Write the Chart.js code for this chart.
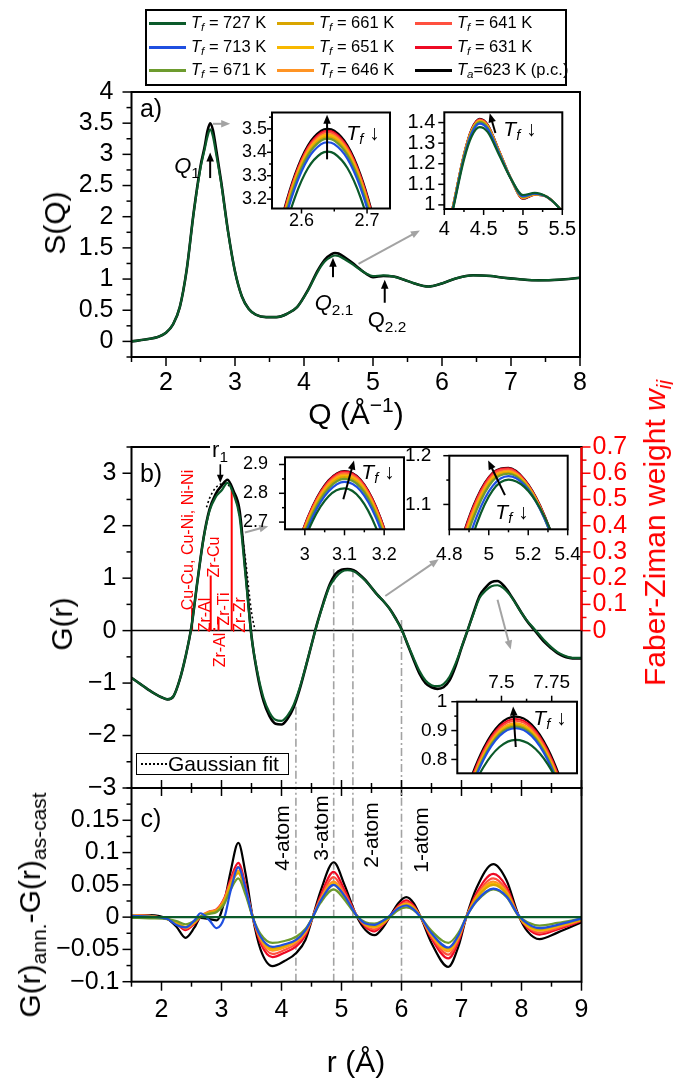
<!DOCTYPE html>
<html>
<head>
<meta charset="utf-8">
<script src="https://cdn.jsdelivr.net/npm/chart.js@4.4.0/dist/chart.umd.min.js"></script>
<style>
  body { margin: 0; background: #fff; font-family: 'Liberation Sans', Arial, sans-serif; }
  #wrap { position: relative; width: 673px; height: 1084px; overflow: hidden; }
  canvas { position: absolute; left: 0; top: 0; }
  .t { position: absolute; white-space: nowrap; transform: translate(-50%, -50%); line-height: 1; }
  .rot { transform: translate(-50%, -50%) rotate(-90deg); }
  sub { font-size: 0.7em; vertical-align: -0.3em; line-height: 0; }
  sup { font-size: 0.7em; vertical-align: 0.55em; line-height: 0; }
  #legend { position: absolute; left: 145px; top: 9px; width: 422px; height: 77px; border: 2px solid #000; box-sizing: border-box; background: #fff; }
  .li { position: absolute; font-size: 16.5px; white-space: nowrap; line-height: 1; }
  .ll { position: absolute; height: 2.5px; }
  #gfit { position: absolute; left: 136px; top: 753px; width: 153px; height: 22px; border: 1.5px solid #000; box-sizing: border-box; background: #fff; }
</style>
</head>
<body>
<div id="wrap"></div>
<script>
const FONT = "'Liberation Sans', Arial, sans-serif";
const W = 673, H = 1084;

// series order: 727, 713, 671, 661, 651, 646, 641, 631, 623 (p.c.)
const tempLabels = ['<i>T</i><sub><i>f</i></sub> = 727 K', '<i>T</i><sub><i>f</i></sub> = 713 K', '<i>T</i><sub><i>f</i></sub> = 671 K',
  '<i>T</i><sub><i>f</i></sub> = 661 K', '<i>T</i><sub><i>f</i></sub> = 651 K', '<i>T</i><sub><i>f</i></sub> = 646 K',
  '<i>T</i><sub><i>f</i></sub> = 641 K', '<i>T</i><sub><i>f</i></sub> = 631 K', '<i>T</i><sub><i>a</i></sub>=623 K (p.c.)'];
const colors = ['#0b5a2a', '#1f4fe0', '#6d9b2e', '#d9a500', '#f8b800', '#ff9424', '#ff503f', '#ee0a24', '#000000'];

// a) S(Q)
const qGrid = [1.5, 1.7, 1.9, 2.0, 2.1, 2.2, 2.3, 2.4, 2.5, 2.56, 2.6, 2.64, 2.68, 2.72, 2.8, 2.9, 3.0, 3.1, 3.2, 3.3,
  3.45, 3.6, 3.75, 3.9, 4.05, 4.2, 4.3, 4.4, 4.45, 4.5, 4.6, 4.7, 4.8, 4.9, 5.0, 5.15, 5.3, 5.45, 5.6, 5.8,
  6.0, 6.2, 6.45, 6.7, 6.9, 7.1, 7.4, 7.7, 8.0];
const sq727 = [0.0, 0.03, 0.08, 0.14, 0.27, 0.55, 1.15, 2.05, 2.78, 3.08, 3.28, 3.40, 3.29, 3.05, 2.53, 1.75, 1.12, 0.72, 0.52, 0.43,
  0.39, 0.39, 0.44, 0.55, 0.80, 1.12, 1.28, 1.36, 1.378, 1.37, 1.31, 1.24, 1.16, 1.09, 1.048, 1.058, 1.04, 0.99, 0.93, 0.88,
  0.93, 1.01, 1.06, 1.05, 1.02, 1.0, 0.98, 0.99, 1.02];
const sq623 = [0.0, 0.03, 0.08, 0.14, 0.27, 0.55, 1.15, 2.06, 2.81, 3.12, 3.37, 3.50, 3.39, 3.13, 2.56, 1.76, 1.12, 0.72, 0.52, 0.43,
  0.39, 0.39, 0.44, 0.55, 0.81, 1.14, 1.31, 1.40, 1.418, 1.41, 1.34, 1.26, 1.17, 1.085, 1.03, 1.05, 1.04, 0.99, 0.93, 0.88,
  0.93, 1.01, 1.06, 1.05, 1.02, 1.0, 0.98, 0.99, 1.02];

// inset a1 (first peak)
const a1Q = [2.55, 2.57, 2.59, 2.61, 2.63, 2.64, 2.65, 2.67, 2.69, 2.71, 2.73];
const a1Vals = [
  [2.771, 3.021, 3.208, 3.333, 3.395, 3.403, 3.395, 3.333, 3.208, 3.021, 2.771],
  [2.811, 3.061, 3.248, 3.373, 3.435, 3.443, 3.435, 3.373, 3.248, 3.061, 2.811],
  [2.826, 3.076, 3.263, 3.388, 3.450, 3.458, 3.450, 3.388, 3.263, 3.076, 2.826],
  [2.833, 3.083, 3.270, 3.395, 3.457, 3.465, 3.457, 3.395, 3.270, 3.083, 2.833],
  [2.840, 3.090, 3.277, 3.402, 3.464, 3.472, 3.464, 3.402, 3.277, 3.090, 2.840],
  [2.846, 3.096, 3.283, 3.408, 3.470, 3.478, 3.470, 3.408, 3.283, 3.096, 2.846],
  [2.854, 3.104, 3.291, 3.416, 3.478, 3.486, 3.478, 3.416, 3.291, 3.104, 2.854],
  [2.860, 3.110, 3.297, 3.422, 3.484, 3.492, 3.484, 3.422, 3.297, 3.110, 2.860],
  [2.868, 3.118, 3.305, 3.430, 3.492, 3.500, 3.492, 3.430, 3.305, 3.118, 2.868]
];
// inset a2 (second peak)
const a2Q = [3.95, 4.1, 4.25, 4.35, 4.45, 4.55, 4.7, 4.85, 5.0, 5.15, 5.3, 5.45, 5.55];
const a2Vals = [
  [0.72, 0.96, 1.22, 1.335, 1.378, 1.355, 1.24, 1.125, 1.048, 1.058, 1.04, 0.99, 0.94],
  [0.725, 0.965, 1.23, 1.35, 1.395, 1.37, 1.248, 1.125, 1.042, 1.055, 1.04, 0.99, 0.94],
  [0.727, 0.968, 1.235, 1.355, 1.402, 1.376, 1.251, 1.125, 1.039, 1.054, 1.04, 0.99, 0.94],
  [0.728, 0.97, 1.237, 1.358, 1.405, 1.379, 1.253, 1.125, 1.037, 1.053, 1.04, 0.99, 0.94],
  [0.728, 0.971, 1.239, 1.36, 1.408, 1.381, 1.254, 1.125, 1.036, 1.052, 1.04, 0.99, 0.94],
  [0.729, 0.972, 1.24, 1.362, 1.41, 1.383, 1.255, 1.125, 1.035, 1.052, 1.04, 0.99, 0.94],
  [0.729, 0.973, 1.242, 1.365, 1.413, 1.386, 1.257, 1.125, 1.033, 1.051, 1.04, 0.99, 0.94],
  [0.73, 0.974, 1.244, 1.368, 1.416, 1.388, 1.258, 1.125, 1.031, 1.05, 1.04, 0.99, 0.94],
  [0.73, 0.975, 1.245, 1.37, 1.418, 1.39, 1.26, 1.125, 1.03, 1.05, 1.04, 0.99, 0.94]
];

// b) G(r)
const rGrid = [1.5, 1.6, 1.7, 1.8, 1.9, 2.0, 2.1, 2.2, 2.3, 2.4, 2.5, 2.6, 2.7, 2.8, 2.9, 3.0, 3.1, 3.2, 3.3, 3.4,
  3.5, 3.6, 3.7, 3.8, 3.9, 4.0, 4.1, 4.2, 4.3, 4.4, 4.5, 4.6, 4.7, 4.8, 4.9, 5.0, 5.1, 5.2, 5.3, 5.4,
  5.5, 5.6, 5.7, 5.8, 5.9, 6.0, 6.1, 6.2, 6.3, 6.4, 6.5, 6.6, 6.7, 6.8, 6.9, 7.0, 7.1, 7.2, 7.3, 7.4,
  7.5, 7.6, 7.7, 7.8, 7.9, 8.0, 8.1, 8.2, 8.3, 8.4, 8.5, 8.6, 8.7, 8.8, 8.9, 9.0];
const g727 = [-0.90, -0.98, -1.06, -1.14, -1.21, -1.27, -1.31, -1.25, -0.95, -0.50, 0.08, 0.95, 1.75, 2.28, 2.54, 2.67, 2.815, 2.60, 2.18, 1.05,
  -0.12, -0.80, -1.28, -1.56, -1.70, -1.72, -1.62, -1.42, -1.10, -0.70, -0.27, 0.15, 0.52, 0.84, 1.01, 1.12, 1.151, 1.13, 1.055, 0.95,
  0.82, 0.68, 0.56, 0.42, 0.23, 0.02, -0.25, -0.52, -0.77, -0.95, -1.04, -1.06, -1.02, -0.88, -0.63, -0.32, 0.0, 0.32, 0.62, 0.76,
  0.845, 0.865, 0.81, 0.69, 0.52, 0.34, 0.18, 0.05, -0.08, -0.21, -0.32, -0.41, -0.47, -0.51, -0.52, -0.52];
const g623 = [-0.90, -0.98, -1.06, -1.14, -1.21, -1.27, -1.31, -1.25, -0.95, -0.50, 0.08, 0.95, 1.76, 2.31, 2.60, 2.76, 2.875, 2.66, 2.30, 1.15,
  -0.10, -0.84, -1.34, -1.63, -1.776, -1.79, -1.68, -1.47, -1.13, -0.71, -0.27, 0.16, 0.54, 0.87, 1.08, 1.16, 1.175, 1.15, 1.07, 0.96,
  0.82, 0.68, 0.56, 0.42, 0.24, 0.03, -0.26, -0.55, -0.82, -1.00, -1.08, -1.11, -1.08, -0.95, -0.68, -0.33, 0.0, 0.34, 0.66, 0.82,
  0.925, 0.945, 0.86, 0.71, 0.53, 0.34, 0.17, 0.03, -0.11, -0.24, -0.34, -0.43, -0.49, -0.52, -0.53, -0.53];
const gaussR = [2.75, 2.8, 2.9, 3.0, 3.05, 3.1, 3.2, 3.3, 3.4, 3.5, 3.56];
const gaussG = [2.35, 2.52, 2.72, 2.8, 2.81, 2.79, 2.62, 2.2, 1.35, 0.35, 0.0];
// Faber-Ziman weights of the pairs
const fzR = [2.51, 2.80, 2.82, 2.88, 2.95, 3.17];
const fzW = [0.087, 0.012, 0.21, 0.01, 0.046, 0.54];
// dash-dot markers (r and the G(r) where they start)
const dashR = [4.24, 4.87, 5.19, 6.0];
const dashTop = [-1.45, 1.17, 1.17, 0.2];

// inset b1
const b1R = [2.94, 2.98, 3.02, 3.06, 3.10, 3.14, 3.18, 3.22, 3.26];
const b1Vals = [
  [2.362, 2.562, 2.705, 2.790, 2.817, 2.782, 2.679, 2.51, 2.273],
  [2.375, 2.575, 2.719, 2.807, 2.84, 2.81, 2.713, 2.55, 2.32],
  [2.388, 2.586, 2.729, 2.817, 2.85, 2.821, 2.724, 2.561, 2.331],
  [2.395, 2.592, 2.735, 2.823, 2.856, 2.827, 2.73, 2.567, 2.337],
  [2.4, 2.597, 2.74, 2.828, 2.861, 2.832, 2.735, 2.572, 2.342],
  [2.405, 2.602, 2.745, 2.833, 2.866, 2.837, 2.74, 2.577, 2.347],
  [2.41, 2.608, 2.75, 2.838, 2.871, 2.842, 2.745, 2.582, 2.352],
  [2.41, 2.61, 2.754, 2.843, 2.875, 2.846, 2.75, 2.588, 2.358],
  [2.412, 2.612, 2.756, 2.845, 2.877, 2.848, 2.752, 2.59, 2.36]
];
// inset b2
const b2R = [4.78, 4.86, 4.94, 5.02, 5.10, 5.18, 5.26, 5.34, 5.42];
const b2Vals = [
  [0.793, 0.949, 1.061, 1.129, 1.151, 1.136, 1.092, 1.019, 0.915],
  [0.83, 0.975, 1.076, 1.138, 1.158, 1.14, 1.09, 1.012, 0.905],
  [0.858, 0.996, 1.09, 1.148, 1.163, 1.143, 1.091, 1.01, 0.9],
  [0.866, 1.002, 1.095, 1.151, 1.165, 1.144, 1.092, 1.01, 0.895],
  [0.872, 1.007, 1.099, 1.154, 1.167, 1.146, 1.093, 1.01, 0.895],
  [0.878, 1.012, 1.103, 1.157, 1.169, 1.147, 1.094, 1.011, 0.896],
  [0.885, 1.018, 1.108, 1.161, 1.172, 1.149, 1.095, 1.012, 0.897],
  [0.89, 1.022, 1.112, 1.164, 1.174, 1.151, 1.097, 1.013, 0.898],
  [0.892, 1.024, 1.114, 1.165, 1.175, 1.152, 1.098, 1.014, 0.899]
];
// inset b3
const b3R = [7.25, 7.33, 7.41, 7.49, 7.57, 7.65, 7.73, 7.81, 7.89];
const b3Vals = [
  [0.498, 0.658, 0.773, 0.843, 0.868, 0.848, 0.784, 0.675, 0.521],
  [0.468, 0.660, 0.798, 0.881, 0.908, 0.881, 0.798, 0.660, 0.468],
  [0.474, 0.666, 0.804, 0.887, 0.914, 0.887, 0.804, 0.666, 0.474],
  [0.478, 0.670, 0.808, 0.891, 0.918, 0.891, 0.808, 0.670, 0.478],
  [0.482, 0.674, 0.812, 0.895, 0.922, 0.895, 0.812, 0.674, 0.482],
  [0.486, 0.678, 0.816, 0.899, 0.926, 0.899, 0.816, 0.678, 0.486],
  [0.494, 0.686, 0.824, 0.907, 0.934, 0.907, 0.824, 0.686, 0.494],
  [0.500, 0.692, 0.830, 0.913, 0.940, 0.913, 0.830, 0.692, 0.500],
  [0.508, 0.700, 0.838, 0.921, 0.948, 0.921, 0.838, 0.700, 0.508]
];

// c) G(r)ann. - G(r)as-cast
const cR = [1.5, 1.8, 2.1, 2.25, 2.4, 2.55, 2.65, 2.8, 2.92, 3.05, 3.15, 3.28, 3.4, 3.52, 3.65, 3.85, 4.05, 4.25, 4.4, 4.52,
  4.65, 4.87, 5.05, 5.25, 5.4, 5.55, 5.7, 5.8, 5.95, 6.08, 6.2, 6.32, 6.5, 6.78, 6.95, 7.08, 7.25, 7.53, 7.75, 7.95,
  8.1, 8.3, 8.6, 9.0];
const d727R = [1.5, 9.0];
const d727 = [0, 0];
const dVals = [
  null,
  [0.002, 0.001, -0.003, -0.012, -0.016, -0.005, 0.006, -0.005, -0.017, 0.0, 0.04, 0.077, 0.045, 0.0, -0.03, -0.046, -0.042, -0.035, -0.02, 0.0,
   0.025, 0.05, 0.033, 0.003, -0.01, -0.012, -0.005, 0.002, 0.014, 0.018, 0.012, 0.0, -0.025, -0.047, -0.028, 0.0, 0.025, 0.044, 0.032, 0.003,
   -0.01, -0.017, -0.012, -0.002],
  [-0.001, -0.002, -0.003, -0.006, -0.011, -0.006, 0.001, 0.005, 0.008, 0.021, 0.042, 0.06, 0.035, 0.0, -0.026, -0.04, -0.037, -0.03, -0.018, 0.0,
   0.022, 0.043, 0.027, 0.002, -0.008, -0.01, -0.005, 0.0, 0.011, 0.015, 0.011, 0.0, -0.021, -0.04, -0.024, 0.0, 0.024, 0.043, 0.031, 0.002,
   -0.008, -0.013, -0.009, -0.002],
  [0.002, 0.001, -0.003, -0.008, -0.015, -0.007, 0.001, 0.007, 0.01, 0.025, 0.048, 0.068, 0.04, 0.0, -0.031, -0.048, -0.044, -0.035, -0.021, 0.0,
   0.025, 0.05, 0.031, 0.003, -0.011, -0.014, -0.008, 0.0, 0.014, 0.019, 0.014, 0.0, -0.026, -0.048, -0.029, 0.0, 0.029, 0.05, 0.036, 0.002,
   -0.012, -0.019, -0.013, -0.004],
  [0.002, 0.001, -0.003, -0.009, -0.016, -0.008, 0.001, 0.007, 0.01, 0.026, 0.05, 0.07, 0.041, 0.0, -0.032, -0.05, -0.045, -0.036, -0.022, 0.0,
   0.026, 0.052, 0.032, 0.003, -0.011, -0.015, -0.008, 0.0, 0.014, 0.02, 0.014, 0.0, -0.027, -0.05, -0.03, 0.0, 0.03, 0.052, 0.037, 0.002,
   -0.013, -0.02, -0.014, -0.004],
  [0.003, 0.002, -0.003, -0.009, -0.017, -0.008, 0.001, 0.008, 0.011, 0.027, 0.051, 0.072, 0.043, 0.0, -0.033, -0.052, -0.047, -0.038, -0.023, 0.0,
   0.027, 0.055, 0.034, 0.003, -0.012, -0.016, -0.009, 0.0, 0.015, 0.021, 0.015, 0.0, -0.028, -0.053, -0.031, 0.0, 0.031, 0.055, 0.039, 0.002,
   -0.014, -0.021, -0.015, -0.004],
  [0.003, 0.002, -0.003, -0.009, -0.018, -0.009, 0.001, 0.009, 0.012, 0.029, 0.055, 0.078, 0.046, 0.0, -0.036, -0.057, -0.051, -0.041, -0.025, 0.0,
   0.029, 0.062, 0.037, 0.003, -0.013, -0.019, -0.01, 0.0, 0.016, 0.023, 0.016, 0.0, -0.03, -0.058, -0.034, 0.0, 0.033, 0.06, 0.042, 0.002,
   -0.015, -0.024, -0.017, -0.005],
  [0.003, 0.002, -0.003, -0.01, -0.02, -0.01, 0.0, 0.008, 0.012, 0.03, 0.058, 0.084, 0.05, 0.0, -0.04, -0.062, -0.055, -0.045, -0.028, 0.0,
   0.033, 0.07, 0.042, 0.003, -0.015, -0.022, -0.011, 0.0, 0.018, 0.026, 0.018, 0.0, -0.033, -0.064, -0.038, 0.0, 0.037, 0.067, 0.047, 0.002,
   -0.017, -0.027, -0.019, -0.006],
  [0.003, 0.003, -0.003, -0.015, -0.032, -0.016, -0.001, -0.003, -0.005, 0.025, 0.07, 0.115, 0.068, 0.0, -0.05, -0.076, -0.068, -0.055, -0.035, 0.0,
   0.04, 0.085, 0.05, 0.002, -0.02, -0.028, -0.015, 0.0, 0.022, 0.031, 0.022, 0.0, -0.04, -0.077, -0.045, 0.0, 0.045, 0.082, 0.057, 0.003,
   -0.022, -0.034, -0.024, -0.008]
];

// tick values
const aXTicks = [2, 3, 4, 5, 6, 7, 8];
const aYTicks = [0, 0.5, 1, 1.5, 2, 2.5, 3, 3.5, 4];
const bYTicks = [-3, -2, -1, 0, 1, 2, 3];
const bY2Ticks = [0, 0.1, 0.2, 0.3, 0.4, 0.5, 0.6, 0.7];
const rTicks = [2, 3, 4, 5, 6, 7, 8, 9];
const cYTicks = [-0.1, -0.05, 0, 0.05, 0.1, 0.15];

function fmt(v) { return String(Math.round(v * 1000) / 1000).replace('-', '\u2212'); }
function pts(xs, ys) { return xs.map((x, i) => ({x: x, y: ys[i]})); }
function line(xs, ys, color, lw, extra) {
  return Object.assign({data: pts(xs, ys), borderColor: color, borderWidth: lw, pointRadius: 0,
    cubicInterpolationMode: 'monotone', fill: false}, extra || {});
}
function curves(xs, rows, lw) {
  return rows.map((ys, i) => line(xs, ys, colors[i], lw));
}
// o.box: thickness of the axis box (labels are clipped to it)
function sc(min, max, ticks, o) {
  o = o || {};
  return {
    type: 'linear', position: o.pos, min: min, max: max, boxSize: o.box || 0,
    afterFit: s => { if (s.isHorizontal()) s.height = o.box || 0; else s.width = o.box || 0; },
    afterBuildTicks: s => { s.ticks = ticks.map(v => ({value: v})); },
    grid: {display: false, drawTicks: false}, border: {display: false},
    ticks: {display: o.show !== false, autoSkip: false, maxRotation: 0, minRotation: 0,
      color: o.color || '#000', padding: o.pad || 0, font: {family: FONT, size: o.size || 25},
      callback: v => fmt(v)}
  };
}

function arrow(ctx, x1, y1, x2, y2, color, lw, hl) {
  const a = Math.atan2(y2 - y1, x2 - x1), c = Math.cos(a), s = Math.sin(a);
  ctx.strokeStyle = color; ctx.fillStyle = color; ctx.lineWidth = lw;
  ctx.beginPath(); ctx.moveTo(x1, y1); ctx.lineTo(x2 - c * hl * 0.8, y2 - s * hl * 0.8); ctx.stroke();
  ctx.beginPath(); ctx.moveTo(x2, y2);
  ctx.lineTo(x2 - hl * c + hl * 0.42 * s, y2 - hl * s - hl * 0.42 * c);
  ctx.lineTo(x2 - hl * c - hl * 0.42 * s, y2 - hl * s + hl * 0.42 * c);
  ctx.closePath(); ctx.fill();
}

const deco = {
  id: 'deco',
  beforeDatasetsDraw(chart, args, o) {
    const ca = chart.chartArea, ctx = chart.ctx;
    ctx.save();
    if (o.bg) { ctx.fillStyle = o.bg; ctx.fillRect(ca.left, ca.top, ca.right - ca.left, ca.bottom - ca.top); }
    if (o.hline !== undefined) {
      const y = chart.scales.y.getPixelForValue(o.hline);
      ctx.strokeStyle = '#000'; ctx.lineWidth = 1.5;
      ctx.beginPath(); ctx.moveTo(ca.left, y); ctx.lineTo(ca.right, y); ctx.stroke();
    }
    ctx.restore();
  },
  afterDatasetsDraw(chart, args, o) {
    const ca = chart.chartArea, ctx = chart.ctx;
    ctx.save();
    (o.marks || []).forEach(m => {
      const s = chart.scales[m.scale];
      const horiz = m.side === 'bottom' || m.side === 'top';
      const e = {bottom: ca.bottom, top: ca.top, left: ca.left, right: ca.right}[m.side];
      const sign = (m.side === 'bottom' || m.side === 'right') ? 1 : -1;
      ctx.strokeStyle = m.color || '#000'; ctx.lineWidth = 1.5;
      [[m.major, m.len], [m.minor || [], m.mlen]].forEach(([vals, len]) => {
        vals.forEach(v => {
          const p = s.getPixelForValue(v);
          let a0 = 0, a1 = len * sign;
          if (m.dir === 'both') { a0 = -len; a1 = len; }
          ctx.beginPath();
          if (horiz) { ctx.moveTo(p, e + a0); ctx.lineTo(p, e + a1); }
          else { ctx.moveTo(e + a0, p); ctx.lineTo(e + a1, p); }
          ctx.stroke();
        });
      });
    });
    ctx.strokeStyle = '#000'; ctx.lineWidth = 2;
    ctx.strokeRect(ca.left, ca.top, ca.right - ca.left, ca.bottom - ca.top);
    if (o.redEdge) {
      const s = chart.scales[o.redEdge.scale];
      ctx.strokeStyle = o.redEdge.color; ctx.lineWidth = 2.2;
      ctx.beginPath(); ctx.moveTo(ca.right, s.getPixelForValue(o.redEdge.from));
      ctx.lineTo(ca.right, s.getPixelForValue(o.redEdge.to)); ctx.stroke();
    }
    (o.arrows || []).forEach(a => {
      const sx = chart.scales.x, sy = chart.scales.y;
      arrow(ctx, sx.getPixelForValue(a[0]), sy.getPixelForValue(a[1]), sx.getPixelForValue(a[2]), sy.getPixelForValue(a[3]),
        a[4], a[5] || 1.6, a[6] || 8);
    });
    ctx.restore();
  }
};

const wrap = document.getElementById('wrap');
// box = chart-area edges [left, right, top, bottom] in page pixels
function build(box, scales, datasets, dec) {
  const cv = document.createElement('canvas');
  cv.width = W; cv.height = H; cv.style.width = W + 'px'; cv.style.height = H + 'px';
  wrap.appendChild(cv);
  const sz = {left: 0, right: 0, top: 0, bottom: 0};
  Object.keys(scales).forEach(k => {
    const s = scales[k];
    const pos = s.position || (k.startsWith('x') ? 'bottom' : 'left');
    sz[pos] += s.boxSize;
  });
  return new Chart(cv, {
    type: 'line',
    data: {datasets: datasets},
    options: {
      responsive: false, animation: false, events: [],
      layout: {padding: {left: box[0] - sz.left, right: W - box[1] - sz.right, top: box[2] - sz.top, bottom: H - box[3] - sz.bottom}},
      plugins: {legend: {display: false}, tooltip: {enabled: false}, deco: dec},
      scales: scales
    },
    plugins: [deco]
  });
}

const GRAY = '#a3a3a3';
const dashStyle = {borderDash: [8, 3, 2, 3], cubicInterpolationMode: 'default', tension: 0};

// ---- panel a
build([131.5, 580, 92, 357],
  {x: sc(1.5, 8, aXTicks, {pad: 11, box: 45}), y: sc(-0.25, 4, aYTicks, {pad: 18, box: 110})},
  [line(qGrid, sq727, colors[0], 2.2), line(qGrid, sq623, colors[8], 2.6)],
  {
    marks: [
      {scale: 'x', side: 'bottom', major: aXTicks, minor: [1.5, 2.5, 3.5, 4.5, 5.5, 6.5, 7.5], len: 9, mlen: 5},
      {scale: 'y', side: 'left', major: aYTicks, minor: [-0.25, 0.25, 0.75, 1.25, 1.75, 2.25, 2.75, 3.25, 3.75], len: 9, mlen: 5}
    ],
    arrows: [
      [2.64, 2.62, 2.64, 3.03, '#000', 2, 9], [4.42, 1.03, 4.42, 1.34, '#000', 2, 9], [5.17, 0.62, 5.17, 0.99, '#000', 2, 9],
      [2.68, 3.49, 2.93, 3.49, GRAY, 2, 9], [4.79, 1.245, 5.68, 1.78, GRAY, 2, 9]
    ]
  });

build([272, 390, 112.5, 208.5],
  {x: sc(2.555, 2.735, [2.6, 2.7], {pad: 2, size: 18, box: 30}), y: sc(3.16, 3.57, [3.2, 3.3, 3.4, 3.5], {pad: 5, size: 18, box: 45})},
  curves(a1Q, a1Vals, 2.2),
  {
    bg: '#fff',
    marks: [
      {scale: 'x', side: 'bottom', major: [2.6, 2.7], minor: [2.65], len: 5, mlen: 3},
      {scale: 'y', side: 'left', major: [3.2, 3.3, 3.4, 3.5], minor: [3.25, 3.35, 3.45, 3.55], len: 5, mlen: 3}
    ],
    arrows: [[2.639, 3.37, 2.639, 3.56, '#000', 2, 9]]
  });

build([444.3, 562.3, 112.3, 209],
  {x: sc(4, 5.5, [4, 4.5, 5, 5.5], {pad: 8, size: 20, box: 35}), y: sc(0.98, 1.45, [1, 1.1, 1.2, 1.3, 1.4], {pad: 9, size: 20, box: 50})},
  curves(a2Q, a2Vals, 2.2),
  {
    bg: '#fff',
    marks: [
      {scale: 'x', side: 'bottom', major: [4, 4.5, 5, 5.5], minor: [4.25, 4.75, 5.25], len: 6, mlen: 3},
      {scale: 'y', side: 'left', major: [1, 1.1, 1.2, 1.3, 1.4], minor: [1.05, 1.15, 1.25, 1.35], len: 6, mlen: 3}
    ],
    arrows: [[4.65, 1.349, 4.577, 1.445, '#000', 2, 9]]
  });

// ---- panel b
const fzPts = [];
fzR.forEach((r, i) => { fzPts.push({x: r, y: 0}, {x: r, y: fzW[i]}, {x: r, y: null}); });
const bSets = [line(rGrid, g727, colors[0], 2.2), line(rGrid, g623, colors[8], 2.6),
  line(gaussR, gaussG, '#000', 1.6, {borderDash: [2, 2.5]}),
  {data: fzPts, yAxisID: 'y2', borderColor: '#ff0000', borderWidth: 2, pointRadius: 0, spanGaps: false, fill: false}];
dashR.forEach((r, i) => bSets.push(line([r, r], [dashTop[i], -3], GRAY, 1.6, dashStyle)));
build([131.5, 581.5, 447, 788],
  {x: sc(1.5, 9, [], {show: false, box: 10}), y: sc(-3, 3.5, bYTicks, {pad: 15, box: 110}),
   y2: sc(-0.6, 0.7, bY2Ticks, {pos: 'right', pad: 11, color: '#ff0000', box: 70})},
  bSets,
  {
    hline: 0,
    marks: [
      {scale: 'x', side: 'bottom', dir: 'both', major: rTicks, minor: [2.5, 3.5, 4.5, 5.5, 6.5, 7.5, 8.5], len: 8, mlen: 5},
      {scale: 'y', side: 'left', major: bYTicks, minor: [-2.5, -1.5, -0.5, 0.5, 1.5, 2.5, 3.5], len: 9, mlen: 5},
      {scale: 'y2', side: 'right', color: '#ff0000', major: bY2Ticks, minor: [0.05, 0.15, 0.25, 0.35, 0.45, 0.55, 0.65], len: 9, mlen: 5}
    ],
    redEdge: {scale: 'y2', from: 0, to: 0.7, color: '#ff0000'},
    arrows: [
      [2.98, 3.17, 2.98, 2.82, '#000', 1.6, 8],
      [3.39, 1.87, 3.78, 1.99, GRAY, 2, 9], [5.73, 0.66, 6.62, 1.36, GRAY, 2, 9], [7.60, 0.59, 7.82, -0.36, GRAY, 2, 9]
    ]
  });

build([285, 404, 457.3, 529.3],
  {x: sc(2.95, 3.25, [3, 3.1, 3.2], {pad: 15, size: 18, box: 40}), y: sc(2.675, 2.925, [2.7, 2.8, 2.9], {pad: 17, size: 18, box: 55})},
  curves(b1R, b1Vals, 2.2),
  {
    bg: '#fff',
    marks: [
      {scale: 'x', side: 'bottom', major: [3, 3.1, 3.2], minor: [3.05, 3.15], len: 6, mlen: 3},
      {scale: 'y', side: 'left', major: [2.7, 2.8, 2.9], minor: [2.75, 2.85], len: 6, mlen: 3}
    ],
    arrows: [[3.097, 2.779, 3.124, 2.914, '#000', 2, 9]]
  });

build([449.3, 567.7, 455.7, 529.3],
  {x: sc(4.8, 5.4, [4.8, 5, 5.2, 5.4], {pad: 14, size: 19, box: 40}), y: sc(1.049, 1.2, [1.1, 1.2], {pad: 18, size: 19, box: 55})},
  curves(b2R, b2Vals, 2.2),
  {
    bg: '#fff',
    marks: [
      {scale: 'x', side: 'bottom', major: [4.8, 5, 5.2, 5.4], minor: [4.9, 5.1, 5.3], len: 6, mlen: 3},
      {scale: 'y', side: 'left', major: [1.1, 1.2], minor: [1.15], len: 6, mlen: 3}
    ],
    arrows: [[5.082, 1.119, 4.997, 1.19, '#000', 2, 9]]
  });

build([457.3, 577, 701.7, 773.3],
  {x: sc(7.28, 7.876, [7.5, 7.75], {pos: 'top', pad: 8, size: 19, box: 35}), y: sc(0.752, 1.0, [0.8, 0.9, 1], {pad: 10, size: 19, box: 45})},
  curves(b3R, b3Vals, 2.2),
  {
    bg: '#fff',
    marks: [
      {scale: 'x', side: 'top', major: [7.5, 7.75], minor: [7.375, 7.625], len: 6, mlen: 3},
      {scale: 'y', side: 'left', major: [0.8, 0.9, 1], minor: [0.85, 0.95], len: 6, mlen: 3}
    ],
    arrows: [[7.571, 0.843, 7.558, 0.983, '#000', 2, 9]]
  });

// ---- panel c
const cSets = [line(d727R, d727, colors[0], 2.2)];
for (let i = 1; i < 9; i++) cSets.push(line(cR, dVals[i], colors[i], 2.2));
dashR.forEach(r => cSets.push(line([r, r], [-0.1, 0.2], GRAY, 1.6, dashStyle)));
build([131.5, 581.5, 788, 981.7],
  {x: sc(1.5, 9, rTicks, {pad: 13, box: 50}), y: sc(-0.1, 0.2, cYTicks, {pad: 12, box: 110})},
  cSets,
  {
    marks: [
      {scale: 'x', side: 'bottom', major: rTicks, minor: [1.5, 2.5, 3.5, 4.5, 5.5, 6.5, 7.5, 8.5], len: 9, mlen: 5},
      {scale: 'y', side: 'left', major: cYTicks, minor: [-0.075, -0.025, 0.025, 0.075, 0.125, 0.175, 0.2], len: 9, mlen: 5}
    ]
  });

// ---- text
const TF = '<i>T<sub>f</sub></i> \u2193';
const texts = [
  {h: 'S(Q)', x: 55, y: 223, s: 30, r: 1},
  {h: 'Q (\u00c5<sup>\u22121</sup>)', x: 356, y: 414, s: 30},
  {h: 'G(r)', x: 62, y: 624, s: 30, r: 1},
  {h: 'Faber-Ziman weight <i>w<sub>ij</sub></i>', x: 655, y: 533, s: 30, r: 1, c: '#ff0000'},
  {h: 'G(r)<sub>ann.</sub>-G(r)<sub>as-cast</sub>', x: 30, y: 905, s: 30, r: 1},
  {h: 'r (\u00c5)', x: 356, y: 1062, s: 30},
  {h: 'a)', x: 151, y: 108, s: 25}, {h: 'b)', x: 151, y: 473, s: 25}, {h: 'c)', x: 151, y: 818, s: 25},
  {h: '<i>Q</i><sub>1</sub>', x: 187, y: 166, s: 22},
  {h: '<i>Q</i><sub>2.1</sub>', x: 334, y: 303, s: 22},
  {h: 'Q<sub>2.2</sub>', x: 387, y: 320, s: 22},
  {h: TF, x: 363, y: 132, s: 21}, {h: TF, x: 520, y: 128, s: 21}, {h: TF, x: 378, y: 471, s: 21},
  {h: TF, x: 512, y: 511, s: 21}, {h: TF, x: 550, y: 717, s: 21},
  {h: 'r<sub>1</sub>', x: 220, y: 450, s: 22, bg: '#fff'},
  {h: 'Cu-Cu, Cu-Ni, Ni-Ni', x: 188, y: 540, s: 16, r: 1, c: '#ff0000'},
  {h: 'Zr-Al', x: 205, y: 615, s: 16, r: 1, c: '#ff0000'},
  {h: 'Zr-Cu', x: 214, y: 557, s: 16, r: 1, c: '#ff0000'},
  {h: 'Zr-Ti', x: 224, y: 609, s: 16, r: 1, c: '#ff0000'},
  {h: 'Zr-Al', x: 220, y: 650, s: 16, r: 1, c: '#ff0000'},
  {h: 'Zr-Zr', x: 240, y: 615, s: 16, r: 1, c: '#ff0000'},
  {h: '4-atom', x: 281, y: 838, s: 21, r: 1}, {h: '3-atom', x: 320, y: 828, s: 21, r: 1},
  {h: '2-atom', x: 370, y: 835, s: 21, r: 1}, {h: '1-atom', x: 420, y: 840, s: 21, r: 1}
];
texts.forEach(t => {
  const d = document.createElement('div');
  d.className = 't' + (t.r ? ' rot' : '');
  d.innerHTML = t.h;
  d.style.left = t.x + 'px'; d.style.top = t.y + 'px'; d.style.fontSize = t.s + 'px';
  if (t.c) d.style.color = t.c;
  if (t.bg) { d.style.background = t.bg; d.style.padding = '0 2px'; }
  wrap.appendChild(d);
});

// Gaussian fit box
const g = document.createElement('div');
g.id = 'gfit';
g.innerHTML = '<div style="position:absolute;left:4px;top:9px;width:26px;border-top:2px dotted #000"></div>' +
  '<div style="position:absolute;left:31px;top:0px;font-size:21px;line-height:20px">Gaussian fit</div>';
wrap.appendChild(g);

// legend
const lg = document.createElement('div');
lg.id = 'legend';
const colX = [2, 130, 268], rowY = [12, 36, 59];
tempLabels.forEach((lab, i) => {
  const cx = colX[Math.floor(i / 3)], cy = rowY[i % 3];
  lg.insertAdjacentHTML('beforeend',
    '<div class="ll" style="left:' + cx + 'px;top:' + (cy - 1) + 'px;width:37px;background:' + colors[i] + '"></div>' +
    '<div class="li" style="left:' + (cx + 42) + 'px;top:' + (cy - 9) + 'px">' + lab + '</div>');
});
wrap.appendChild(lg);
</script>
</body>
</html>
